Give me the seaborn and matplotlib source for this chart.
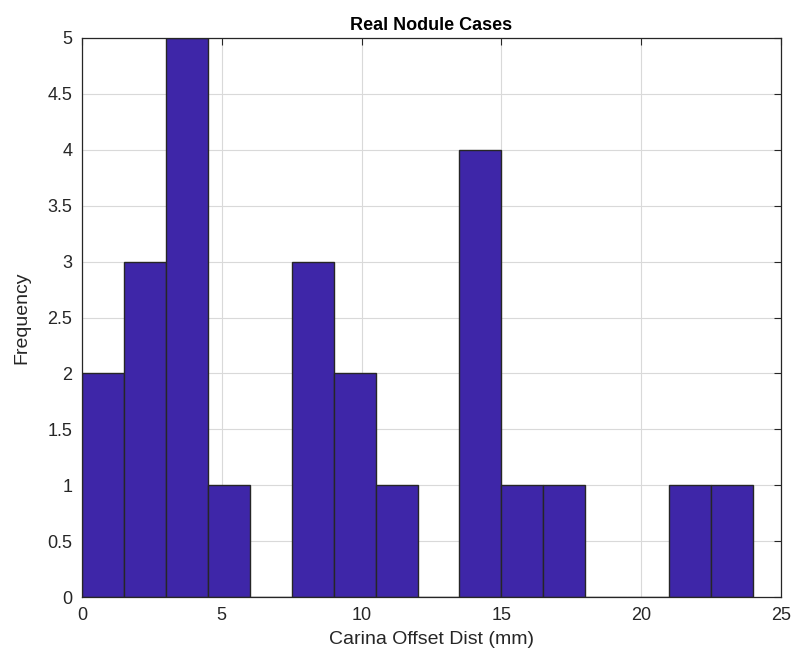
#!/usr/bin/env python3
import numpy as np
import pandas as pd
import matplotlib
matplotlib.use("Agg")
import matplotlib.pyplot as plt
import seaborn as sns

# Histogram bins (mm) and counts
bin_edges = [0, 1.5, 3, 4.5, 6, 7.5, 9, 10.5, 12, 13.5, 15, 16.5, 18, 19.5, 21, 22.5, 24]
counts = [2, 3, 5, 1, 0, 3, 2, 1, 0, 4, 1, 1, 0, 0, 1, 1]

x_ticks = [0, 5, 10, 15, 20, 25]
y_ticks = [0, 0.5, 1, 1.5, 2, 2.5, 3, 3.5, 4, 4.5, 5]

sns.set_style('white')
plt.rcParams['font.family'] = ['Liberation Sans', 'DejaVu Sans']

centers = [(a + b) / 2 for a, b in zip(bin_edges[:-1], bin_edges[1:])]
df = pd.DataFrame({'dist': centers, 'n': counts})

fig = plt.figure(figsize=(7.94, 6.59), dpi=100)
ax = fig.add_axes([82 / 794, 1 - 597 / 659, (781 - 82) / 794, (597 - 38) / 659])

sns.histplot(data=df, x='dist', weights='n', bins=bin_edges, ax=ax,
             color='#3E26A8', alpha=1, edgecolor='#262626', linewidth=1.0,
             zorder=2)

ax.set_xlim(0, 25)
ax.set_ylim(0, 5)
ax.set_xticks(x_ticks)
ax.set_yticks(y_ticks)
ax.set_yticklabels([f'{v:g}' for v in y_ticks])
ax.grid(True, color='#d9d9d9', linewidth=0.8, zorder=0)
ax.set_axisbelow(True)
ax.tick_params(direction='in', length=5, top=True, right=True,
               labelsize=13, colors='#262626', width=0.8, pad=7)
for s in ax.spines.values():
    s.set_color('#262626')
    s.set_linewidth(0.9)

ax.set_xlabel('Carina Offset Dist (mm)', fontsize=14, color='#262626', labelpad=5)
ax.set_ylabel('Frequency', fontsize=14, color='#262626', labelpad=12)
ax.set_title('Real Nodule Cases', fontsize=13, fontweight='bold', color='black', pad=6)

fig.savefig('out.png', dpi=100)
